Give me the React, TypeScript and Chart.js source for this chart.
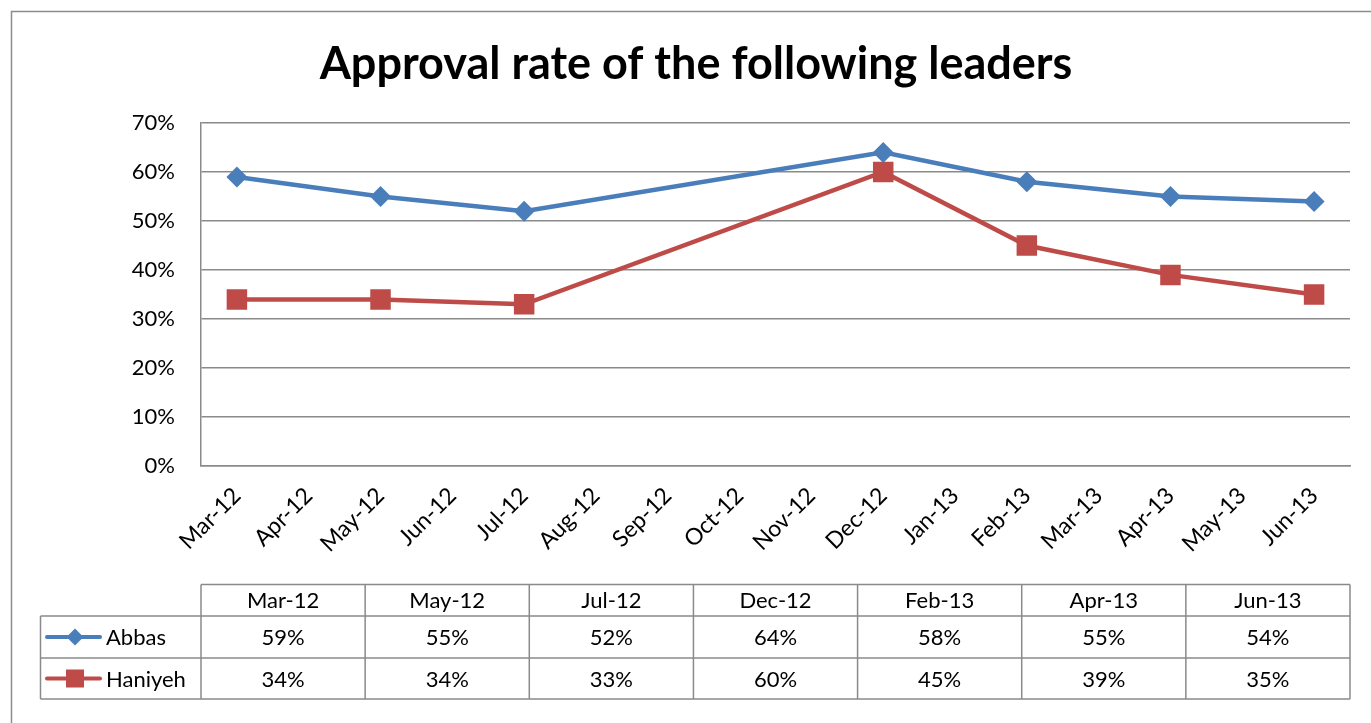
import React, { useEffect, useRef } from 'react';
import { Chart, registerables } from 'chart.js';

Chart.register(...registerables);

const months = [
  'Mar-12', 'Apr-12', 'May-12', 'Jun-12', 'Jul-12', 'Aug-12', 'Sep-12', 'Oct-12',
  'Nov-12', 'Dec-12', 'Jan-13', 'Feb-13', 'Mar-13', 'Apr-13', 'May-13', 'Jun-13',
];
const surveyMonths = ['Mar-12', 'May-12', 'Jul-12', 'Dec-12', 'Feb-13', 'Apr-13', 'Jun-13'];
const abbas = [59, 55, 52, 64, 58, 55, 54];
const haniyeh = [34, 34, 33, 60, 45, 39, 35];
const seriesNames = ['Abbas', 'Haniyeh'];
const titleText = 'Approval rate of the following leaders';

const BLUE = '#4A7EBB';
const RED = '#BE4B48';
const GRID = '#8A8A8A';
const FONT = 'Lato, "Open Sans", sans-serif';

function drawDiamond(ctx: CanvasRenderingContext2D, x: number, y: number, r: number) {
  ctx.beginPath();
  ctx.moveTo(x - r, y);
  ctx.lineTo(x, y - r);
  ctx.lineTo(x + r, y);
  ctx.lineTo(x, y + r);
  ctx.closePath();
  ctx.fill();
}

const decor = {
  id: 'decor',
  beforeDraw(chart: any) {
    const ctx = chart.ctx as CanvasRenderingContext2D;
    ctx.save();
    ctx.fillStyle = '#ffffff';
    ctx.fillRect(0, 0, chart.width, chart.height);
    ctx.strokeStyle = '#8C8C8C';
    ctx.lineWidth = 1.5;
    ctx.strokeRect(11.5, 11.5, chart.width + 20, chart.height + 20);
    ctx.restore();
  },
  afterDraw(chart: any) {
    const ctx = chart.ctx as CanvasRenderingContext2D;
    const { left, right } = chart.chartArea;
    ctx.save();
    // title
    ctx.fillStyle = '#000';
    ctx.font = `bold 45px ${FONT}`;
    ctx.textAlign = 'center';
    ctx.textBaseline = 'alphabetic';
    ctx.fillText(titleText, 696, 79);

    // data table
    const n = surveyMonths.length;
    const colW = (right - left) / n;
    const yTop = 584.5, yH = 616, yR1 = 658, yR2 = 699, xL = 40.5;
    ctx.strokeStyle = GRID;
    ctx.lineWidth = 1.5;
    const line = (x1: number, y1: number, x2: number, y2: number) => {
      ctx.beginPath();
      ctx.moveTo(x1, y1);
      ctx.lineTo(x2, y2);
      ctx.stroke();
    };
    line(left, yTop, right, yTop);
    line(xL, yH, right, yH);
    line(xL, yR1, right, yR1);
    line(xL, yR2, right, yR2);
    line(xL, yH, xL, yR2);
    for (let i = 0; i <= n; i++) {
      const x = left + i * colW;
      line(x, yTop, x, yR2);
    }
    ctx.font = `22px ${FONT}`;
    ctx.textAlign = 'center';
    ctx.textBaseline = 'middle';
    ctx.fillStyle = '#000';
    const rows = [abbas, haniyeh];
    const rowY = [(yH + yR1) / 2 + 1, (yR1 + yR2) / 2 + 1];
    for (let i = 0; i < n; i++) {
      const cx = left + (i + 0.5) * colW;
      ctx.fillText(surveyMonths[i], cx, (yTop + yH) / 2 + 1);
      rows.forEach((r, k) => ctx.fillText(r[i] + '%', cx, rowY[k]));
    }
    // legend keys
    const colors = [BLUE, RED];
    seriesNames.forEach((name, k) => {
      const y = rowY[k] - 1;
      ctx.strokeStyle = colors[k];
      ctx.fillStyle = colors[k];
      ctx.lineWidth = 4;
      ctx.lineCap = 'round';
      line(47, y, 100, y);
      if (k === 0) drawDiamond(ctx, 75, y, 8.5);
      else ctx.fillRect(66, y - 9, 18, 18);
      ctx.fillStyle = '#000';
      ctx.textAlign = 'left';
      ctx.fillText(name, 106, rowY[k]);
    });
    ctx.restore();
  },
};

export default function App() {
  const ref = useRef<HTMLCanvasElement>(null);
  useEffect(() => {
    if (!ref.current) return;
    const chart = new Chart(ref.current, {
      type: 'line',
      data: {
        labels: months,
        datasets: [
          {
            label: seriesNames[0],
            data: surveyMonths.map((m, i) => ({ x: m, y: abbas[i] })),
            borderColor: BLUE,
            backgroundColor: BLUE,
            borderWidth: 4.5,
            pointStyle: 'rectRot',
            pointRadius: 10.5,
            pointBorderWidth: 0,
            tension: 0,
          },
          {
            label: seriesNames[1],
            data: surveyMonths.map((m, i) => ({ x: m, y: haniyeh[i] })),
            borderColor: RED,
            backgroundColor: RED,
            borderWidth: 4.5,
            pointStyle: 'rect',
            pointRadius: 14.5,
            pointBorderWidth: 0,
            tension: 0,
          },
        ],
      },
      options: {
        responsive: false,
        animation: false,
        layout: { padding: { left: 0, right: 21, top: 123, bottom: 0 } },
        plugins: { legend: { display: false }, title: { display: false }, tooltip: { enabled: false } },
        scales: {
          x: {
            type: 'category',
            offset: true,
            grid: { display: false, drawTicks: false },
            border: { display: true, color: GRID, width: 1.5 },
            ticks: {
              autoSkip: false,
              maxRotation: 45,
              minRotation: 45,
              padding: 16,
              color: '#000',
              font: { family: FONT, size: 23 },
            },
            afterFit: (s: any) => { s.height = 723 - 466; },
          },
          y: {
            min: 0,
            max: 70,
            ticks: {
              stepSize: 10,
              padding: 26,
              color: '#000',
              font: { family: FONT, size: 22 },
              callback: (v: any) => v + '%',
            },
            grid: { color: GRID, lineWidth: 1.5, drawTicks: false },
            border: { display: true, color: GRID, width: 1.5 },
            afterFit: (s: any) => { s.width = 201; },
          },
        },
      },
      plugins: [decor],
    });
    return () => chart.destroy();
  }, []);
  return (
    <div style={{ position: 'absolute', left: 0, top: 0, width: 1371, height: 723 }}>
      <canvas ref={ref} width={1371} height={723} style={{ display: 'block' }} />
    </div>
  );
}
